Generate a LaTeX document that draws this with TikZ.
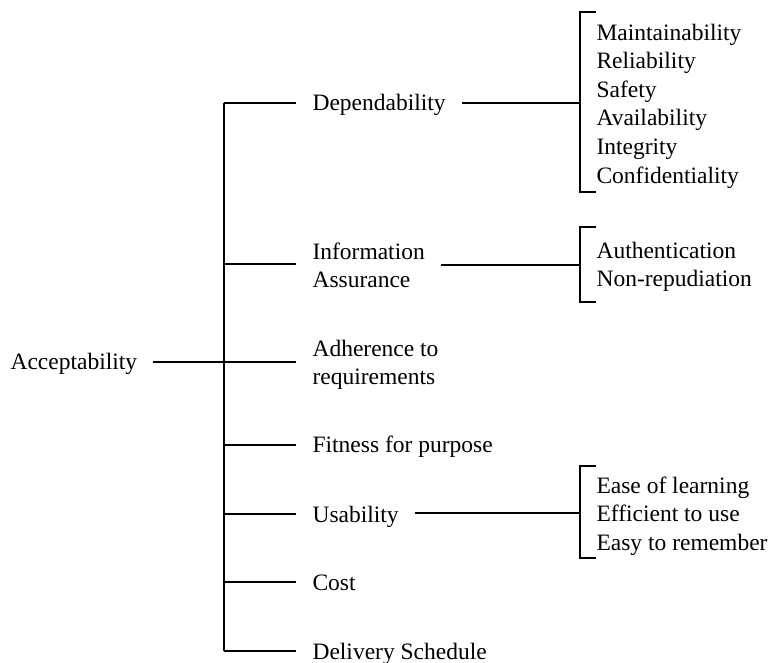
\documentclass[tikz,border=0pt]{standalone}
\usepackage{fontspec}
\setmainfont{Liberation Serif}
\usetikzlibrary{positioning}

\begin{document}
\begin{tikzpicture}[x=1pt,y=-1pt,line width=1.1pt,
  lbl/.style={inner xsep=16pt,inner ysep=0pt,font=\fontsize{23.5}{28}\selectfont},
  items/.style={anchor=west,align=left,inner sep=0pt,font=\fontsize{23.5}{28.6}\selectfont}]
\useasboundingbox (0,0) rectangle (772,663);

\node[lbl,anchor=base west,inner xsep=15pt] (acc) at (-5,370) {Acceptability};

\coordinate (jdep) at (224,103);
\coordinate (jinf) at (224,264);
\coordinate (jadh) at (224,362);
\coordinate (jfit) at (224,445);
\coordinate (jusa) at (224,514);
\coordinate (jcos) at (224,582);
\coordinate (jdel) at (224,651);

\node[lbl,anchor=base west] (dep) at (296,111) {Dependability};
\node[lbl,anchor=west,align=left] (inf) at (296,265) {Information\\Assurance};
\node[lbl,anchor=west,align=left] (adh) at (296,365) {Adherence to\\requirements};
\node[lbl,anchor=base west] (fit) at (296,453) {Fitness for purpose};
\node[lbl,anchor=base west] (usa) at (296,522) {Usability};
\node[lbl,anchor=base west] (cos) at (296,590) {Cost};
\node[lbl,anchor=base west] (del) at (296,659) {Delivery Schedule};

\draw (acc.east |- jadh) -- (jadh);
\draw (jdep) -- (jdel);
\foreach \j/\n in {jdep/dep,jinf/inf,jadh/adh,jfit/fit,jusa/usa,jcos/cos,jdel/del}
  \draw (\j) -- (\j -| \n.west);

\coordinate (bdep) at (580,103);
\coordinate (binf) at (580,265);
\coordinate (busa) at (580,513);

\node[items] (depl) at (596,106) {Maintainability\\Reliability\\Safety\\Availability\\Integrity\\Confidentiality};
\node[items] (infl) at (596,267) {Authentication\\Non-repudiation};
\node[items] (usal) at (596,516) {Ease of learning\\Efficient to use\\Easy to remember};

\draw (dep.east |- bdep) -- (bdep);
\draw (inf.east |- binf) -- (binf);
\draw (usa.east |- busa) -- (busa);

\draw (596,12) -- (580,12) -- (580,192) -- (596,192);
\draw (596,227) -- (580,227) -- (580,302) -- (596,302);
\draw (596,466) -- (580,466) -- (580,558) -- (596,558);
\end{tikzpicture}
\end{document}
